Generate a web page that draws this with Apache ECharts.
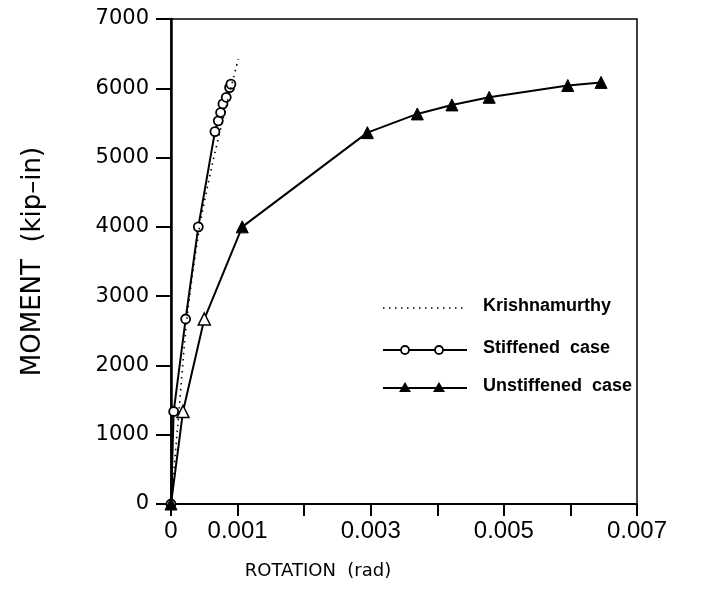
<!DOCTYPE html>
<html>
<head>
<meta charset="utf-8">
<script src="https://cdn.jsdelivr.net/npm/echarts@6/dist/echarts.min.js"></script>
<style>
html,body{margin:0;padding:0;background:#fff;}
#chart{width:701px;height:598px;}
</style>
</head>
<body>
<div id="chart"></div>
<script>
// ---- data ----
var xTickLabels = ['0', '0.001', '', '0.003', '', '0.005', '', '0.007'];
var yTickLabels = ['0', '1000', '2000', '3000', '4000', '5000', '6000', '7000'];

var krishRot = [0, 0.00012, 0.00024, 0.00043, 0.00062, 0.00078, 0.00101];
var krishMom = [0, 1340, 2680, 4000, 4900, 5550, 6420];

var stiffRot = [0, 0.00004, 0.00022, 0.00041, 0.00066, 0.00071, 0.000745, 0.00078, 0.00083, 0.00088, 0.0009];
var stiffMom = [0, 1335, 2670, 4000, 5375, 5530, 5650, 5775, 5870, 6010, 6060];

var unstRot = [0, 0.00018, 0.0005, 0.00107, 0.00295, 0.0037, 0.00422, 0.00478, 0.00596, 0.00646];
var unstMom = [0, 1335, 2670, 4000, 5360, 5630, 5760, 5870, 6040, 6085];
var unstOpen = [false, true, true, false, false, false, false, false, false, false];

var legendNames = ['Krishnamurthy', 'Stiffened  case', 'Unstiffened  case'];

function pairs(xs, ys) { return xs.map(function (x, i) { return [x, ys[i]]; }); }

var chart = echarts.init(document.getElementById('chart'));

var unstData = unstRot.map(function (x, i) {
  var d = { value: [x, unstMom[i]] };
  if (unstOpen[i]) d.itemStyle = { color: '#fff', borderColor: '#000', borderWidth: 1.5 };
  return d;
});

var lx1 = 383, lx2 = 467, ltx = 483, ly = [308, 350, 388];
var legendFont = 'bold 18px "Liberation Sans", Arial, sans-serif';
function tri(cx, cy) {
  return { type: 'polygon', shape: { points: [[cx, cy - 6], [cx - 6, cy + 4], [cx + 6, cy + 4]] }, style: { fill: '#000' } };
}
function circ(cx, cy) {
  return { type: 'circle', shape: { cx: cx, cy: cy, r: 4 }, style: { fill: '#fff', stroke: '#000', lineWidth: 1.8 } };
}
var graphics = [
  { type: 'line', shape: { x1: lx1, y1: ly[0], x2: lx2, y2: ly[0] }, style: { stroke: '#000', lineWidth: 1.5, lineDash: [1.5, 4.5] } },
  { type: 'text', left: ltx, top: ly[0] - 11, style: { text: legendNames[0], font: legendFont, fill: '#000' } },
  { type: 'line', shape: { x1: lx1, y1: ly[1], x2: lx2, y2: ly[1] }, style: { stroke: '#000', lineWidth: 2 } },
  circ(405, ly[1]), circ(439, ly[1]),
  { type: 'text', left: ltx, top: ly[1] - 11, style: { text: legendNames[1], font: legendFont, fill: '#000' } },
  { type: 'line', shape: { x1: lx1, y1: ly[2], x2: lx2, y2: ly[2] }, style: { stroke: '#000', lineWidth: 2 } },
  tri(405, ly[2]), tri(439, ly[2]),
  { type: 'text', left: ltx, top: ly[2] - 11, style: { text: legendNames[2], font: legendFont, fill: '#000' } }
];

chart.setOption({
  backgroundColor: '#fff',
  animation: false,
  grid: { left: 171, right: 64, top: 19, bottom: 94, show: true, borderColor: '#000', borderWidth: 1.5, backgroundColor: 'transparent' },
  xAxis: {
    type: 'value', min: 0, max: 0.007, interval: 0.001,
    name: 'ROTATION  (rad)', nameLocation: 'middle', nameGap: 58,
    nameTextStyle: { fontFamily: 'DejaVu Sans', fontSize: 18, color: '#000', padding: [0, 172, 0, 0] },
    axisLine: { show: true, lineStyle: { color: '#000', width: 2 } },
    axisTick: { show: true, length: 12, lineStyle: { color: '#000', width: 2 } },
    axisLabel: {
      margin: 15, color: '#000', fontFamily: '"Liberation Sans", Arial, sans-serif', fontSize: 24,
      formatter: function (v) { return xTickLabels[Math.round(v / 0.001)] || ''; }
    },
    splitLine: { show: false }
  },
  yAxis: {
    type: 'value', min: 0, max: 7000, interval: 1000,
    name: 'MOMENT  (kip–in)', nameLocation: 'middle', nameGap: 125, nameRotate: 90,
    nameTextStyle: { fontFamily: 'DejaVu Sans', fontSize: 26, color: '#000' },
    axisLine: { show: true, lineStyle: { color: '#000', width: 2.5 } },
    axisTick: { show: true, length: 15, lineStyle: { color: '#000', width: 2 } },
    axisLabel: {
      margin: 22, color: '#000', fontFamily: 'DejaVu Sans', fontSize: 21,
      formatter: function (v) { return yTickLabels[Math.round(v / 1000)]; }
    },
    splitLine: { show: false }
  },
  graphic: graphics,
  series: [
    {
      name: legendNames[1], type: 'line', data: pairs(stiffRot, stiffMom),
      symbol: 'circle', symbolSize: 9, showAllSymbol: true,
      lineStyle: { color: '#000', width: 2 },
      itemStyle: { color: '#fff', borderColor: '#000', borderWidth: 1.8 },
      z: 3
    },
    {
      name: legendNames[2], type: 'line', data: unstData,
      symbol: 'triangle', symbolSize: 12, showAllSymbol: true,
      lineStyle: { color: '#000', width: 2 },
      itemStyle: { color: '#000', borderColor: '#000', borderWidth: 1 },
      z: 3
    },
    {
      name: legendNames[0], type: 'line', data: pairs(krishRot, krishMom),
      showSymbol: false, smooth: 0.3,
      lineStyle: { color: '#000', width: 1.6, type: [1.5, 4.5] },
      z: 4
    }
  ]
});
</script>
</body>
</html>
